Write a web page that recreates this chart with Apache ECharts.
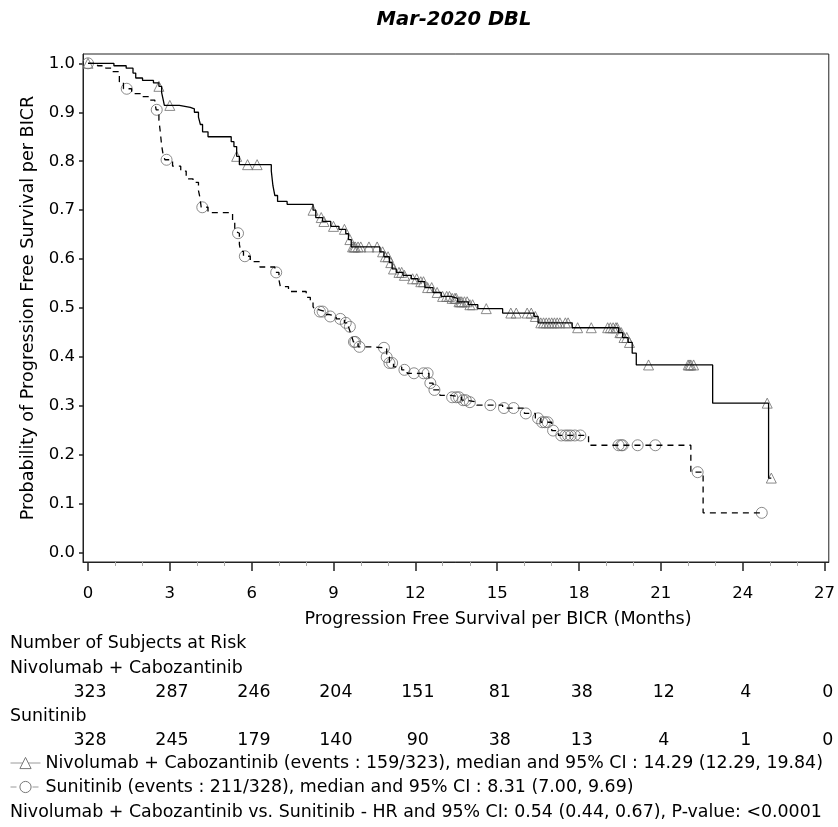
<!DOCTYPE html>
<html><head><meta charset="utf-8">
<script src="https://cdn.jsdelivr.net/npm/echarts@6/dist/echarts.min.js"></script>
<style>html,body{margin:0;padding:0;background:#fff}#c{width:838px;height:827px}</style>
</head><body><div id="c"></div>
<script>
const titleText = 'Mar-2020 DBL';
const xAxisTitle = 'Progression Free Survival per BICR (Months)';
const yAxisTitle = 'Probability of Progression Free Survival per BICR';
const xTicks = [0, 3, 6, 9, 12, 15, 18, 21, 24, 27];
const xMinorTicks = [1, 2, 4, 5, 7, 8, 10, 11, 13, 14, 16, 17, 19, 20, 22, 23, 25, 26];
const yTicks = [0, 0.1, 0.2, 0.3, 0.4, 0.5, 0.6, 0.7, 0.8, 0.9, 1.0];
const groups = ['Nivolumab + Cabozantinib', 'Sunitinib'];
const riskTitle = 'Number of Subjects at Risk';
const riskNivo = [323, 287, 246, 204, 151, 81, 38, 12, 4, 0];
const riskSuni = [328, 245, 179, 140, 90, 38, 13, 4, 1, 0];
const legendLabels = [
  'Nivolumab + Cabozantinib (events : 159/323), median and 95% CI : 14.29 (12.29, 19.84)',
  'Sunitinib (events : 211/328), median and 95% CI : 8.31 (7.00, 9.69)'
];
const hrText = 'Nivolumab + Cabozantinib vs. Sunitinib - HR and 95% CI: 0.54 (0.44, 0.67), P-value: <0.0001';

// Kaplan-Meier steps: time of drop and survival after the drop
const nivoTimes = [0, 0.95, 1.4, 1.65, 1.75, 2.0, 2.4, 2.6, 2.7, 2.76, 2.8, 3.35, 3.75, 3.9, 4.05, 4.12, 4.2, 4.4, 5.25, 5.35, 5.45, 5.55, 6.72, 6.78, 6.85, 6.95, 7.3, 8.25, 8.35, 8.6, 8.9, 9.2, 9.45, 9.55, 9.65, 10.7, 10.85, 11.05, 11.15, 11.3, 11.55, 11.85, 12.1, 12.35, 12.65, 12.95, 13.3, 13.55, 13.95, 14.29, 15.2, 16.35, 16.5, 17.75, 19.45, 19.6, 19.8, 19.95, 20.1, 22.9, 24.95];
const nivoSurv = [1.0, 0.995, 0.99, 0.98, 0.97, 0.965, 0.96, 0.953, 0.94, 0.925, 0.914, 0.91, 0.907, 0.9, 0.89, 0.875, 0.86, 0.85, 0.84, 0.83, 0.81, 0.793, 0.78, 0.75, 0.73, 0.718, 0.712, 0.70, 0.685, 0.677, 0.667, 0.661, 0.652, 0.64, 0.625, 0.615, 0.605, 0.593, 0.58, 0.573, 0.567, 0.56, 0.554, 0.542, 0.532, 0.524, 0.52, 0.513, 0.507, 0.499, 0.49, 0.483, 0.47, 0.46, 0.45, 0.44, 0.43, 0.408, 0.384, 0.306, 0.153];
const nivoCensor = [0, 2.6, 3.0, 5.45, 5.85, 6.2, 8.25, 8.55, 8.65, 9.0, 9.4, 9.6, 9.7, 9.75, 9.8, 9.9, 10.0, 10.3, 10.6, 10.8, 10.9, 11.0, 11.1, 11.2, 11.4, 11.5, 11.6, 11.9, 12.05, 12.2, 12.3, 12.45, 12.6, 12.8, 13.0, 13.15, 13.25, 13.35, 13.45, 13.5, 13.6, 13.65, 13.7, 13.8, 13.9, 14.0, 14.1, 14.6, 15.5, 15.7, 16.1, 16.25, 16.4, 16.6, 16.7, 16.8, 16.9, 17.0, 17.1, 17.2, 17.3, 17.5, 17.6, 17.95, 18.45, 19.05, 19.15, 19.25, 19.35, 19.4, 19.5, 19.55, 19.65, 19.75, 19.85, 20.55, 22.0, 22.05, 22.1, 22.2, 24.9, 25.05];

const suniTimes = [0, 0.35, 0.65, 0.9, 1.15, 1.3, 1.6, 1.95, 2.25, 2.45, 2.5, 2.6, 2.65, 2.7, 2.75, 2.82, 3.1, 3.4, 3.6, 3.85, 4.05, 4.1, 4.15, 4.4, 5.3, 5.38, 5.45, 5.55, 5.6, 5.7, 5.95, 6.3, 6.85, 7.0, 7.05, 7.35, 8.0, 8.15, 8.25, 8.31, 8.45, 8.7, 8.85, 9.1, 9.4, 9.55, 9.62, 9.68, 9.73, 9.9, 10.3, 10.95, 11.05, 11.2, 11.5, 11.7, 12.5, 12.65, 12.9, 13.3, 13.7, 13.9, 14.25, 15.2, 16.0, 16.4, 16.6, 17.0, 17.25, 18.35, 22.1, 22.55];
const suniSurv = [1.0, 0.995, 0.99, 0.983, 0.962, 0.948, 0.938, 0.932, 0.925, 0.92, 0.905, 0.884, 0.86, 0.832, 0.815, 0.803, 0.79, 0.78, 0.764, 0.757, 0.74, 0.727, 0.706, 0.695, 0.68, 0.657, 0.653, 0.63, 0.616, 0.606, 0.595, 0.584, 0.573, 0.558, 0.544, 0.534, 0.522, 0.513, 0.503, 0.497, 0.493, 0.487, 0.483, 0.478, 0.47, 0.462, 0.45, 0.44, 0.431, 0.421, 0.419, 0.40, 0.388, 0.38, 0.374, 0.367, 0.347, 0.333, 0.322, 0.318, 0.312, 0.308, 0.302, 0.296, 0.285, 0.275, 0.267, 0.25, 0.24, 0.22, 0.165, 0.082];
const suniCensor = [0, 1.42, 2.52, 2.88, 4.19, 5.5, 5.75, 6.9, 8.5, 8.6, 8.88, 9.25, 9.45, 9.6, 9.75, 9.8, 9.95, 10.85, 10.95, 11.05, 11.15, 11.6, 11.95, 12.3, 12.45, 12.55, 12.7, 13.35, 13.5, 13.6, 13.75, 13.85, 14.0, 14.75, 15.25, 15.6, 16.05, 16.5, 16.65, 16.75, 16.85, 17.05, 17.35, 17.5, 17.6, 17.7, 17.85, 18.05, 19.45, 19.55, 19.6, 20.15, 20.8, 22.35, 24.7];

const FONT = 'DejaVu Sans';
const TXT = 17.4;
const TFONT = TXT + 'px "DejaVu Sans"';

function survAt(times, surv, t) {
  let s = surv[0];
  for (let i = 0; i < times.length; i++) {
    if (times[i] <= t + 1e-9) s = surv[i]; else break;
  }
  return s;
}
function stepLine(times, surv, censor) {
  const pts = times.map((t, i) => [t, surv[i]]);
  const last = Math.max(censor[censor.length - 1], times[times.length - 1]);
  pts.push([last, surv[surv.length - 1]]);
  return pts;
}
function censorPts(times, surv, censor) {
  return censor.map(t => [t, survAt(times, surv, t)]);
}

const X_MIN = -0.183, X_MAX = 27.157, Y_MIN = -0.0184, Y_MAX = 1.019;

const chart = echarts.init(document.getElementById('c'), null, {renderer: 'canvas'});
const markerStyle = {color: 'rgba(255,255,255,0)', borderColor: '#6e6e6e', borderWidth: 1};
const riskLabel = {show: true, position: 'inside', offset: [2, 0], formatter: p => String(p.value[2]),
  fontFamily: FONT, fontSize: TXT, color: '#000', textBorderWidth: 0, opacity: 1};

chart.setOption({
  animation: false,
  backgroundColor: '#fff',
  title: {
    text: titleText, left: 449, top: 5, textAlign: 'center',
    textStyle: {fontFamily: FONT, fontWeight: 'bold', fontStyle: 'italic', fontSize: 19.5, color: '#000'}
  },
  grid: [
    {left: 83, right: 8, top: 54, height: 508, show: true, borderColor: '#222', borderWidth: 1, backgroundColor: 'transparent'},
    {left: 83, right: 8, top: 668, height: 96}
  ],
  legend: {
    data: groups, orient: 'vertical', left: 5, top: 753, padding: [0, 5],
    itemWidth: 30, itemHeight: 14, itemGap: 4, selectedMode: false,
    formatter: name => legendLabels[groups.indexOf(name)],
    textStyle: {fontFamily: FONT, fontSize: TXT, color: '#000', lineHeight: 20},
    lineStyle: {color: '#9a9a9a', width: 1},
    itemStyle: {color: '#fff', borderColor: '#777', borderWidth: 1}
  },
  xAxis: [
    {type: 'value', gridIndex: 0, position: 'bottom', min: X_MIN, max: X_MAX,
     axisLine: {show: true, onZero: false, lineStyle: {color: '#222', width: 1}},
     axisTick: {show: true, customValues: xTicks, length: 9, lineStyle: {color: '#222', width: 1.5}},
     axisLabel: {customValues: xTicks, margin: 23, fontFamily: FONT, fontSize: 16.5, color: '#000'},
     splitLine: {show: false}},
    {type: 'value', gridIndex: 0, position: 'bottom', min: X_MIN, max: X_MAX,
     axisLine: {show: false, onZero: false},
     axisTick: {show: true, customValues: xMinorTicks, length: 4, lineStyle: {color: '#aaa', width: 1}},
     axisLabel: {show: false}, splitLine: {show: false}},
    {type: 'value', gridIndex: 1, min: X_MIN, max: X_MAX, show: false}
  ],
  yAxis: [
    {type: 'value', gridIndex: 0, min: Y_MIN, max: Y_MAX,
     axisLine: {show: true, onZero: false, lineStyle: {color: '#222', width: 1}},
     axisTick: {show: true, customValues: yTicks, length: 4, lineStyle: {color: '#222', width: 1.5}},
     axisLabel: {customValues: yTicks, formatter: v => v.toFixed(1), margin: 8, fontFamily: FONT, fontSize: 16.5, color: '#000'},
     splitLine: {show: false},
     name: yAxisTitle, nameLocation: 'middle', nameGap: 46,
     nameTextStyle: {fontFamily: FONT, fontSize: 17.6, color: '#000'}},
    {type: 'category', gridIndex: 1, data: groups, inverse: true, show: false}
  ],
  graphic: [
    {type: 'text', x: 498, y: 619, style: {text: xAxisTitle, font: '17.6px "DejaVu Sans"', fill: '#000', align: 'center', verticalAlign: 'middle'}},
    {type: 'text', x: 10, y: 643, style: {text: riskTitle, font: TFONT, fill: '#000', align: 'left', verticalAlign: 'middle'}},
    {type: 'text', x: 10, y: 668, style: {text: groups[0], font: TFONT, fill: '#000', align: 'left', verticalAlign: 'middle'}},
    {type: 'text', x: 10, y: 716, style: {text: groups[1], font: TFONT, fill: '#000', align: 'left', verticalAlign: 'middle'}},
    {type: 'text', x: 10, y: 812, style: {text: hrText, font: TFONT, fill: '#000', align: 'left', verticalAlign: 'middle'}}
  ],
  series: [
    {name: groups[0], type: 'line', xAxisIndex: 0, yAxisIndex: 0, step: 'end',
     data: stepLine(nivoTimes, nivoSurv, nivoCensor),
     symbol: 'triangle', showSymbol: false, silent: true,
     lineStyle: {color: '#000', width: 1.3, type: 'solid'},
     itemStyle: {color: '#fff', borderColor: '#777', borderWidth: 1}},
    {name: groups[1], type: 'line', xAxisIndex: 0, yAxisIndex: 0, step: 'end',
     data: stepLine(suniTimes, suniSurv, suniCensor),
     symbol: 'circle', showSymbol: false, silent: true,
     lineStyle: {color: '#000', width: 1.3, type: [6, 5]},
     itemStyle: {color: '#fff', borderColor: '#777', borderWidth: 1}},
    {name: 'nivoCensored', type: 'scatter', xAxisIndex: 0, yAxisIndex: 0,
     data: censorPts(nivoTimes, nivoSurv, nivoCensor),
     symbol: 'triangle', symbolSize: 10, itemStyle: markerStyle, silent: true},
    {name: 'suniCensored', type: 'scatter', xAxisIndex: 0, yAxisIndex: 0,
     data: censorPts(suniTimes, suniSurv, suniCensor),
     symbol: 'circle', symbolSize: 11, itemStyle: markerStyle, silent: true},
    {name: 'riskNivo', type: 'scatter', xAxisIndex: 2, yAxisIndex: 1,
     data: xTicks.map((t, i) => [t, groups[0], riskNivo[i]]),
     symbolSize: 1, itemStyle: {color: 'rgba(0,0,0,0)'}, silent: true, label: riskLabel},
    {name: 'riskSuni', type: 'scatter', xAxisIndex: 2, yAxisIndex: 1,
     data: xTicks.map((t, i) => [t, groups[1], riskSuni[i]]),
     symbolSize: 1, itemStyle: {color: 'rgba(0,0,0,0)'}, silent: true, label: riskLabel}
  ]
});
</script>
</body></html>
